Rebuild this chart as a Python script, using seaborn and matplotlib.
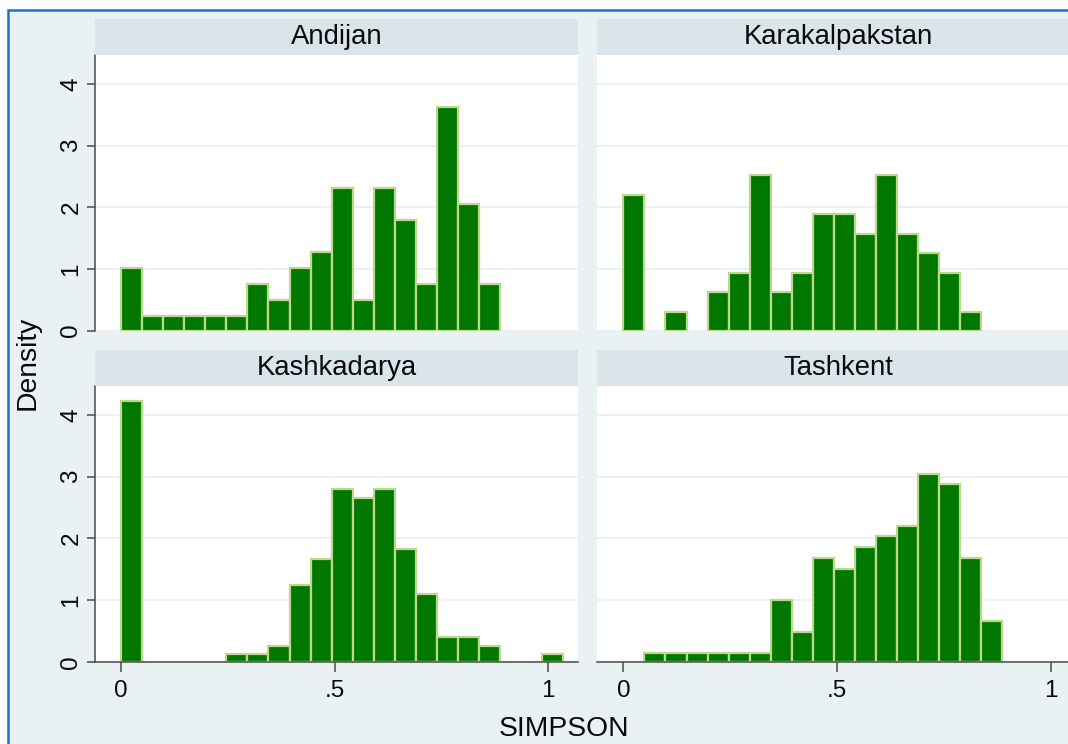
import numpy as np
import pandas as pd
import matplotlib
matplotlib.use("Agg")
import matplotlib.pyplot as plt
from matplotlib.patches import Rectangle
import seaborn as sns

# Histogram densities of SIMPSON by region (bins start at 0, equal width)
regions = ["Andijan", "Karakalpakstan", "Kashkadarya", "Tashkent"]
bin_width = 0.0493
n_bins = 21

andijan = [1.02, 0.24, 0.24, 0.24, 0.24, 0.24, 0.76, 0.50, 1.02, 1.28, 2.32,
           0.50, 2.32, 1.80, 0.76, 3.63, 2.06, 0.76, 0.0, 0.0, 0.0]
karakalpakstan = [2.20, 0.0, 0.30, 0.0, 0.62, 0.93, 2.52, 0.62, 0.93, 1.89, 1.89,
                  1.57, 2.52, 1.57, 1.26, 0.93, 0.30, 0.0, 0.0, 0.0, 0.0]
kashkadarya = [4.22, 0.0, 0.0, 0.0, 0.0, 0.12, 0.12, 0.25, 1.24, 1.67, 2.80,
               2.66, 2.80, 1.82, 1.10, 0.40, 0.40, 0.26, 0.0, 0.0, 0.12]
tashkent = [0.0, 0.14, 0.14, 0.14, 0.14, 0.14, 0.14, 1.00, 0.48, 1.68, 1.51,
            1.86, 2.03, 2.20, 3.04, 2.88, 1.68, 0.66, 0.0, 0.0, 0.0]
densities = [andijan, karakalpakstan, kashkadarya, tashkent]

x_ticks = [0, 0.5, 1]
x_tick_labels = ["0", ".5", "1"]
y_ticks = [0, 1, 2, 3, 4]
y_tick_labels = ["0", "1", "2", "3", "4"]

# Colours (Stata s2color-like scheme)
BG = "#e9f1f3"
STRIP = "#d9e5eb"
BORDER = "#1874cd"
FILL = "#007800"
EDGE = "#bcd88f"
GRID = "#e8f0f2"
AXIS = "#4a4a4a"
TEXT = "#0a0a0a"

sns.set_style("white")
plt.rcParams["font.family"] = ["Liberation Sans", "DejaVu Sans"]

W, H = 1068, 744
fig = plt.figure(figsize=(W / 100, H / 100), dpi=100)
fig.patch.set_facecolor("white")


def box(x0, y0, x1, y1):
    """Pixel box (top-left origin) -> figure rectangle."""
    return [x0 / W, 1 - y1 / H, (x1 - x0) / W, (y1 - y0) / H]


# graph region with its frame
fig.patches.append(Rectangle((8 / W, -0.2), 1.5, 1.2 - 10 / H,
                             transform=fig.transFigure, facecolor=BG,
                             edgecolor=BORDER, lw=1.8, zorder=-10))

cols = [(95, 577.7), (597.3, 1080)]
rows = [(55, 330.5), (386, 661.7)]
strip_h = 36

bin_lo = 0.0
bin_hi = n_bins * bin_width
centers = bin_lo + bin_width * (np.arange(n_bins) + 0.5)

for i, (name, dens) in enumerate(zip(regions, densities)):
    r, c = divmod(i, 2)
    x0, x1 = cols[c]
    y0, y1 = rows[r]

    ax = fig.add_axes(box(x0, y0, x1, y1))
    ax.set_facecolor("white")
    df = pd.DataFrame({"SIMPSON": centers, "Density": dens})
    sns.histplot(data=df, x="SIMPSON", weights="Density", binwidth=bin_width,
                 binrange=(bin_lo, bin_hi), ax=ax, color=FILL, edgecolor=EDGE,
                 linewidth=1.6, alpha=1, fill=True)
    for p in ax.patches:
        if p.get_height() <= 0:
            p.set_visible(False)

    ax.set_xlim(-0.061, 1.069)
    ax.set_ylim(0, 4.47)
    ax.set_xlabel("")
    ax.set_ylabel("")
    ax.set_yticks(y_ticks)
    ax.set_xticks(x_ticks)
    ax.grid(axis="y", color=GRID, lw=1.2)
    ax.grid(axis="x", visible=False)
    ax.set_axisbelow(True)

    for s in ["top", "right", "left", "bottom"]:
        ax.spines[s].set_visible(False)

    if c == 0:
        ax.spines["left"].set_visible(True)
        ax.spines["left"].set_color(AXIS)
        ax.spines["left"].set_linewidth(1.1)
        ax.set_yticklabels(y_tick_labels)
        ax.tick_params(axis="y", left=True, length=6, width=1.1, color=AXIS,
                       pad=3.0, labelsize=17.5, labelrotation=90,
                       labelcolor=TEXT)
        for lab in ax.get_yticklabels():
            lab.set_va("center")
    else:
        ax.tick_params(axis="y", left=False, labelleft=False)

    if r == 1:
        ax.spines["bottom"].set_visible(True)
        ax.spines["bottom"].set_color(AXIS)
        ax.spines["bottom"].set_linewidth(1.1)
        ax.set_xticklabels(x_tick_labels)
        ax.tick_params(axis="x", bottom=True, length=7, width=1.1, color=AXIS,
                       pad=6.0, labelsize=17.5, labelcolor=TEXT)
    else:
        ax.tick_params(axis="x", bottom=False, labelbottom=False)

    # panel title strip
    sax = fig.add_axes(box(x0, y0 - strip_h, x1, y0))
    sax.set_facecolor(STRIP)
    sax.set_xticks([])
    sax.set_yticks([])
    for s in sax.spines.values():
        s.set_visible(False)
    sax.text(0.5, 0.5, name, ha="center", va="center", fontsize=19.8,
             color=TEXT, transform=sax.transAxes)

fig.text(28 / W, 1 - 362.5 / H, "Density", rotation=90, ha="center",
         va="center", fontsize=20.3, color=TEXT)
fig.text(564 / W, 1 - 729 / H, "SIMPSON", ha="center", va="center",
         fontsize=20.3, color=TEXT)

fig.savefig("out.png", dpi=100, facecolor=fig.get_facecolor())
